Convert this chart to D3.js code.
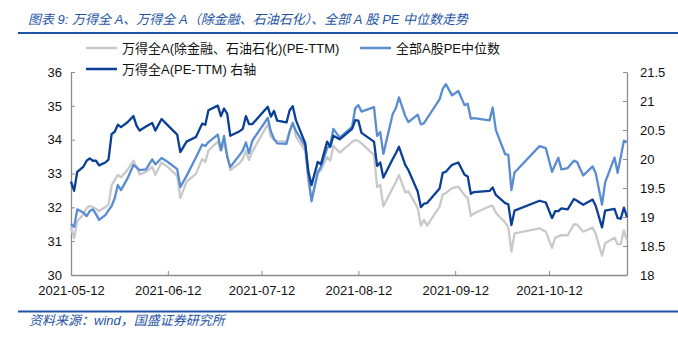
<!DOCTYPE html>
<html><head><meta charset="utf-8">
<script src="https://cdn.jsdelivr.net/npm/d3@7"></script>
<style>body{margin:0;background:#fff;} svg{display:block;}</style>
</head><body><svg id="c" width="678" height="337"></svg>
<script>
const dates = [
"2021-05-12","2021-05-13","2021-05-14","2021-05-16","2021-05-17","2021-05-18","2021-05-19","2021-05-20","2021-05-21","2021-05-23","2021-05-24","2021-05-25","2021-05-26","2021-05-27","2021-05-28","2021-05-30",
"2021-06-01","2021-06-02","2021-06-03","2021-06-05","2021-06-07","2021-06-08","2021-06-10","2021-06-12","2021-06-15","2021-06-16","2021-06-18","2021-06-21","2021-06-23","2021-06-24","2021-06-25","2021-06-28","2021-06-29","2021-06-30",
"2021-07-01","2021-07-02","2021-07-05","2021-07-06","2021-07-07","2021-07-08","2021-07-09","2021-07-14","2021-07-15","2021-07-16","2021-07-17","2021-07-20","2021-07-21","2021-07-22","2021-07-23","2021-07-26","2021-07-27","2021-07-28","2021-07-30","2021-07-31",
"2021-08-02","2021-08-03","2021-08-04","2021-08-06","2021-08-10","2021-08-11","2021-08-12","2021-08-13","2021-08-17","2021-08-18","2021-08-19","2021-08-20","2021-08-23","2021-08-24","2021-08-25","2021-08-27","2021-08-28","2021-08-31",
"2021-09-01","2021-09-02","2021-09-03","2021-09-07","2021-09-08","2021-09-09","2021-09-11","2021-09-13","2021-09-15","2021-09-16","2021-09-17","2021-09-18","2021-09-23","2021-09-24","2021-09-25","2021-09-28","2021-09-29","2021-09-30",
"2021-10-01","2021-10-09","2021-10-11","2021-10-13","2021-10-14","2021-10-15","2021-10-16","2021-10-18","2021-10-20","2021-10-21","2021-10-23","2021-10-26","2021-10-27","2021-10-29","2021-10-30",
"2021-11-02","2021-11-03","2021-11-04","2021-11-05","2021-11-06"];

// 万得全A(除金融、石油石化)(PE-TTM) — left axis
const exFinPE = [
31.42,31.09,31.58,31.80,31.98,32.04,32.01,31.95,31.89,32.01,32.08,32.65,32.81,32.96,32.89,33.10,
33.38,33.19,32.97,33.05,33.20,32.96,33.33,33.19,32.93,32.27,32.76,32.99,33.43,33.34,33.68,33.94,33.68,33.89,
33.55,33.10,33.31,33.43,33.67,33.40,33.64,34.46,34.09,34.00,33.95,33.95,34.26,34.51,34.10,33.67,32.75,32.25,32.99,33.10,
33.49,33.38,33.82,33.62,33.93,33.99,33.96,33.89,33.55,32.60,32.66,32.03,32.57,32.75,32.96,32.44,32.47,31.98,
31.46,31.63,31.46,32.02,32.38,32.42,32.57,32.61,32.36,32.27,31.75,31.82,32.03,32.05,31.84,31.55,31.41,30.69,
31.23,31.38,31.28,30.80,31.10,31.14,31.18,31.17,31.50,31.49,31.28,31.40,31.21,30.57,30.94,
31.10,30.91,30.91,31.32,31.02];

// 全部A股PE中位数 — left axis
const medianPE = [
31.51,31.42,31.94,31.84,31.74,31.89,31.94,31.80,31.63,31.77,31.91,32.04,32.27,32.66,32.51,32.84,
33.25,33.18,33.10,33.12,33.42,33.27,33.46,33.34,33.13,32.60,32.93,33.47,33.86,33.81,33.93,34.15,33.69,34.11,
33.50,33.19,33.55,33.68,33.92,33.60,33.96,34.64,34.24,34.02,33.89,33.88,34.24,34.49,34.26,33.81,32.91,32.18,33.04,33.19,
33.75,33.84,34.32,34.06,34.38,34.93,35.02,34.83,34.96,34.11,34.23,33.58,34.76,34.93,35.25,34.70,34.52,34.74,
34.45,34.49,34.63,35.19,35.50,35.64,35.31,35.44,35.02,35.06,34.62,34.64,34.57,34.95,34.29,33.57,33.55,32.51,
33.03,33.81,33.75,33.05,33.26,33.47,33.12,33.16,33.38,33.34,32.94,33.21,33.01,32.08,32.74,
33.47,33.02,33.49,33.97,33.93];

// 万得全A(PE-TTM) — right axis
const allAPE = [
19.61,19.45,19.78,19.87,19.97,20.01,19.97,19.97,19.89,19.94,19.99,20.43,20.47,20.59,20.55,20.63,
20.74,20.57,20.49,20.56,20.62,20.49,20.69,20.58,20.42,20.12,20.30,20.38,20.61,20.59,20.84,20.92,20.74,20.87,
20.78,20.40,20.48,20.52,20.74,20.60,20.60,20.90,20.73,20.83,20.66,20.63,20.84,20.91,20.67,20.27,19.78,19.55,19.95,19.91,
20.30,20.21,20.40,20.34,20.52,20.67,20.66,20.45,20.30,19.88,19.94,19.68,20.00,20.10,20.21,19.90,19.81,19.44,
19.17,19.23,19.24,19.49,19.76,19.78,19.90,19.94,19.73,19.70,19.40,19.43,19.45,19.51,19.38,19.24,19.22,18.86,
19.11,19.28,19.25,18.98,19.10,19.10,19.15,19.13,19.31,19.28,19.21,19.30,19.19,18.82,19.11,
19.14,18.98,18.97,19.16,19.00];

const leftTicks = [30,31,32,33,34,35,36];
const rightTicks = [18,18.5,19,19.5,20,20.5,21,21.5];
const xTickLabels = ["2021-05-12","2021-06-12","2021-07-12","2021-08-12","2021-09-12","2021-10-12"];
const xDomain = ["2021-05-12","2021-11-06"];
const seriesNames = ["万得全A(除金融、石油石化)(PE-TTM)","全部A股PE中位数","万得全A(PE-TTM) 右轴"];
const titleText = "图表 9:  万得全 A、万得全 A（除金融、石油石化）、全部 A 股 PE 中位数走势";
const sourceText = "资料来源：wind，国盛证券研究所";

const colors = {gray:"#c9c9c9", mid:"#5a8cd2", dark:"#0a3f96", brand:"#1f54a6", axis:"#8c8c8c"};
const fontLatin = "'Liberation Sans', Arial, 'Noto Sans CJK SC', sans-serif";
const fontCJK = "'Liberation Sans', 'Noto Sans CJK SC', sans-serif";

const parse = d3.timeParse("%Y-%m-%d");
const svg = d3.select("#c");
const m = {l:71, r:627, t:72, b:275};

const x = d3.scaleTime().domain(xDomain.map(parse)).range([m.l, m.r]);
const yL = d3.scaleLinear().domain([30,36]).range([m.b, m.t]);
const yR = d3.scaleLinear().domain([18,21.5]).range([m.b, m.t]);

// title
svg.append("text").attr("x",28).attr("y",24)
  .attr("font-family",fontCJK).attr("font-size",13).attr("font-style","italic")
  .attr("fill",colors.brand).text(titleText);
svg.append("line").attr("x1",18).attr("x2",678).attr("y1",33).attr("y2",33)
  .attr("stroke",colors.brand).attr("stroke-width",2);

// axes
const axL = d3.axisLeft(yL).tickValues(leftTicks).tickSize(-4).tickSizeOuter(0).tickPadding(9).tickFormat(d3.format("d"));
const axR = d3.axisRight(yR).tickValues(rightTicks).tickSize(-4).tickSizeOuter(0).tickPadding(13).tickFormat(d=>String(d));
const axB = d3.axisBottom(x).tickValues(xTickLabels.map(parse)).tickSize(-4).tickSizeOuter(0).tickPadding(11).tickFormat(d3.timeFormat("%Y-%m-%d"));

function style(g){
  g.selectAll("path.domain").attr("stroke",colors.axis).attr("stroke-width",1.3);
  g.selectAll(".tick line").attr("stroke",colors.axis).attr("stroke-width",1);
  g.selectAll(".tick text").attr("fill","#111").attr("font-family",fontLatin).attr("font-size",13);
  g.attr("font-family",fontLatin);
}
svg.append("g").attr("transform",`translate(${m.l},0)`).call(axL).call(style);
svg.append("g").attr("transform",`translate(${m.r},0)`).call(axR).call(style);
svg.append("g").attr("transform",`translate(0,${m.b})`).call(axB).call(style);

// lines
const pts = (vals)=>dates.map((d,i)=>({d:parse(d), v:vals[i]}));
const lineL = d3.line().x(p=>x(p.d)).y(p=>yL(p.v));
const lineR = d3.line().x(p=>x(p.d)).y(p=>yR(p.v));
svg.append("path").attr("d",lineL(pts(exFinPE))).attr("fill","none").attr("stroke",colors.gray).attr("stroke-width",2.3).attr("stroke-linejoin","round");
svg.append("path").attr("d",lineL(pts(medianPE))).attr("fill","none").attr("stroke",colors.mid).attr("stroke-width",2.3).attr("stroke-linejoin","round");
svg.append("path").attr("d",lineR(pts(allAPE))).attr("fill","none").attr("stroke",colors.dark).attr("stroke-width",2.3).attr("stroke-linejoin","round");

// legend
const legend = [
  {name:seriesNames[0], color:colors.gray, x:86, y:48},
  {name:seriesNames[1], color:colors.mid, x:360, y:48},
  {name:seriesNames[2], color:colors.dark, x:86, y:69}
];
const lg = svg.append("g");
legend.forEach(l=>{
  lg.append("line").attr("x1",l.x).attr("x2",l.x+31).attr("y1",l.y).attr("y2",l.y)
    .attr("stroke",l.color).attr("stroke-width",2.5);
  lg.append("text").attr("x",l.x+36).attr("y",l.y+4.5)
    .attr("font-family",fontCJK).attr("font-size",13).attr("fill","#111").text(l.name);
});

// source
svg.append("line").attr("x1",18).attr("x2",678).attr("y1",311.5).attr("y2",311.5)
  .attr("stroke",colors.brand).attr("stroke-width",2);
svg.append("text").attr("x",29).attr("y",325)
  .attr("font-family",fontCJK).attr("font-size",13).attr("font-style","italic")
  .attr("fill",colors.brand).text(sourceText);
</script>
</body></html>
